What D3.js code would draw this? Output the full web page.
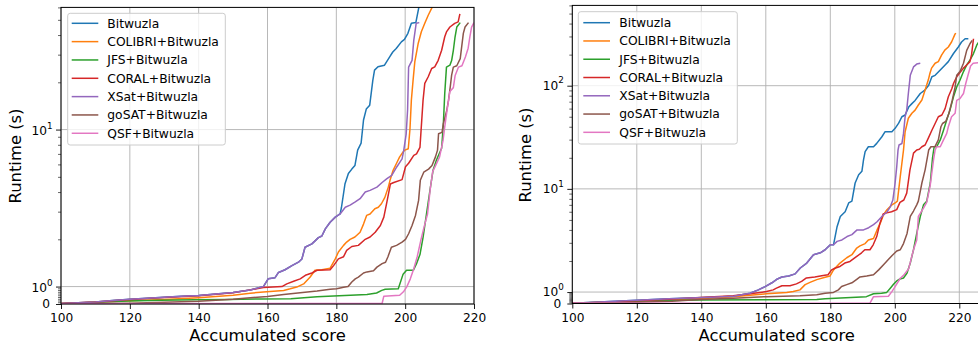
<!DOCTYPE html>
<html><head><meta charset="utf-8">
<script src="https://d3js.org/d3.v7.min.js"></script>
<style>html,body{margin:0;padding:0;background:#fff}svg{display:block}</style>
</head><body>
<svg id="c" width="978" height="349"></svg>
<script>
// ---------------- data ----------------
const seriesNames = ["Bitwuzla","COLIBRI+Bitwuzla","JFS+Bitwuzla","CORAL+Bitwuzla","XSat+Bitwuzla","goSAT+Bitwuzla","QSF+Bitwuzla"];
const seriesColors = ["#1f77b4","#ff7f0e","#2ca02c","#d62728","#9467bd","#8c564b","#e377c2"];
const xTicks = [100,120,140,160,180,200,220];
const leftYTicks = [0,1,10];
const rightYTicks = [0,1,10,100];
const leftMinorTicks = [0.1,0.2,0.3,0.4,0.5,0.6,0.7,0.8,0.9,2,3,4,5,6,7,8,9,20,30,40,50,60];
const rightMinorTicks = [0.1,0.2,0.3,0.4,0.5,0.6,0.7,0.8,0.9,2,3,4,5,6,7,8,9,20,30,40,50,60,70,80,90,200,300,400,500,600];
const xLabel = "Accumulated score";
const yLabel = "Runtime (s)";

// left panel: [score, runtime]
const L_Bitwuzla = [[100,0.03],[105,0.07],[110,0.12],[115,0.2],[120,0.27],[125,0.33],[130,0.39],[135,0.44],[140,0.49],[145,0.57],[150,0.66],[155,0.8],[158.8,1.0],[160.2,1.12],[162.2,1.14],[163.2,1.23],[165.1,1.28],[167.1,1.36],[169,1.43],[170,1.5],[170.9,1.78],[172.9,1.87],[174.8,2.05],[175.8,2.1],[176.8,2.33],[178.2,2.57],[179.7,2.77],[181.1,2.9],[181.5,3.2],[182.5,4.5],[183.5,5.25],[184.5,5.6],[185.4,5.9],[186.2,7.4],[187.2,8.2],[187.9,11.5],[188.7,13.5],[189.7,14.3],[190.6,20.6],[191.1,23.9],[192.1,25.1],[194,25.7],[195.5,29],[196.4,31.2],[197.4,32.8],[198.9,36.2],[199.8,37.5],[200.8,41],[201.8,47.5],[203.1,48],[204.1,62]];
const L_COLIBRI = [[100,0.03],[110,0.1],[120,0.18],[130,0.26],[140,0.36],[150,0.5],[155,0.62],[158.8,0.69],[164.7,0.78],[166.6,0.87],[168.5,0.97],[170.5,1.04],[172.4,1.15],[173.8,1.27],[175.8,1.28],[178.2,1.31],[179.7,1.5],[180.6,1.66],[182.1,1.83],[183,1.92],[184,2.0],[185.4,2.07],[186.9,2.22],[187.9,2.5],[188.8,2.84],[189.8,2.9],[191.2,3.13],[192.2,3.2],[193.1,3.37],[194.1,3.7],[195.1,4.3],[195.6,4.75],[196.5,5.5],[197.5,6.1],[198.4,6.7],[199.4,7.2],[199.9,7.4],[200.9,7.55],[201.4,10.1],[201.8,15.4],[202.3,20.6],[202.8,27],[203.8,35.5],[204.7,42],[205.7,47.5],[206.7,53.5],[207.9,60.5],[208.5,68]];
const L_JFS = [[100,0.02],[110,0.1],[119.4,0.17],[129,0.21],[138.7,0.25],[148.4,0.26],[158,0.29],[166.8,0.3],[174.4,0.41],[179.2,0.46],[184.1,0.5],[188.9,0.55],[191.7,0.63],[193.2,0.78],[194.2,0.85],[198,0.87],[199.4,1.2],[200.4,1.27],[202.4,1.27],[203.3,1.4],[204.3,1.6],[205.2,2.06],[206.2,2.9],[207.2,4.1],[208.1,5.5],[209.1,6.4],[210.1,7.2],[210.6,7.6],[211.1,10.9],[211.5,17],[212,25],[213,25.7],[213.5,27.5],[214,32],[214.5,39],[215,45],[216,48]];
const L_CORAL = [[100,0.03],[110,0.12],[120,0.26],[130,0.38],[140,0.48],[150,0.64],[154.9,0.81],[158.8,0.95],[164.2,1.0],[165.6,1.04],[167.6,1.08],[169.5,1.12],[171,1.18],[172.9,1.22],[174.4,1.27],[178.2,1.28],[179.2,1.36],[180.6,1.5],[182.1,1.55],[183,1.7],[184.5,1.8],[186.4,1.83],[188.4,2.0],[189.8,2.07],[191.3,2.22],[192.8,2.45],[193.8,2.77],[194.7,3.46],[195.7,4.5],[196.7,4.6],[199.1,4.8],[200.1,5.8],[201,6.1],[202.5,6.85],[203.3,7.0],[204.3,7.7],[205.2,15.4],[205.7,19.7],[206.7,21.7],[207.7,24.5],[208.6,25.1],[209.6,27.6],[210.6,32],[211.5,39],[212,41.9],[213,45],[214.4,47.5],[215.4,48.5],[215.9,54.5]];
const L_XSat = [[100,0.03],[105,0.07],[110,0.12],[115,0.2],[120,0.27],[125,0.33],[130,0.39],[135,0.44],[140,0.49],[145,0.57],[150,0.66],[155,0.8],[158.8,1.0],[160.2,1.12],[162.2,1.14],[163.2,1.23],[165.1,1.28],[167.1,1.36],[169,1.43],[170,1.5],[170.9,1.78],[172.9,1.87],[174.8,2.05],[175.8,2.1],[176.8,2.33],[178.2,2.57],[179.7,2.77],[181.1,2.9],[182.6,3.2],[184,3.3],[185.5,3.46],[186.9,3.63],[188.4,4.0],[189.8,4.1],[191.8,4.3],[193.3,4.6],[194.7,4.87],[196.1,5.1],[197.6,5.8],[199.1,6.5],[199.6,7.4],[200.3,9.4],[200.7,13.3],[201,25],[202,27.6],[202.5,37],[203.2,47.5],[204.1,48]];
const L_goSAT = [[100,0.02],[110,0.03],[120,0.05],[130,0.1],[140,0.16],[150,0.27],[155,0.36],[160,0.43],[164.7,0.55],[169.5,0.65],[174.4,0.75],[178.2,0.85],[180.1,0.88],[182.1,0.96],[183.4,1.0],[184.5,1.07],[185.5,1.12],[186.4,1.15],[187.9,1.22],[188.9,1.24],[190.8,1.26],[191.8,1.33],[193.3,1.4],[194.3,1.43],[195,1.55],[196,1.78],[197.5,1.83],[199.1,1.92],[200.1,2.0],[201,2.17],[202,2.45],[203,2.84],[203.9,3.54],[204.4,4.75],[205.4,5.35],[206.8,5.6],[207.8,5.9],[208.8,6.7],[209.4,7.4],[209.7,9.4],[210.7,9.6],[211.1,10.9],[212.1,13.3],[212.6,15.4],[213.1,18.7],[213.5,22.2],[214,25],[215,25.5],[216,28.3],[216.9,41],[217.4,45],[218.4,48]];
const L_QSF = [[100,0.02],[193.3,0.03],[193.8,0.45],[198.4,0.5],[199.5,0.7],[200.5,1.0],[201.5,1.12],[202.5,1.3],[203.5,1.55],[204.5,1.95],[205.5,2.4],[206.5,2.9],[207.3,4.2],[208,5.4],[209,6.0],[210,6.7],[211,8.5],[211.5,10.4],[212,12.5],[213,17.5],[214,18.5],[214.5,22],[215.5,25],[216.5,25.5],[217.5,29],[218.3,33],[218.8,39],[219.3,45],[220,48]];

// right panel: [score, runtime]
const R_Bitwuzla = [[100,0.03],[110,0.15],[120,0.28],[125,0.36],[130,0.42],[141,0.52],[150,0.64],[155.1,0.9],[157.7,1.05],[159.8,1.13],[161.9,1.23],[163.4,1.33],[165,1.4],[167.1,1.43],[169.1,1.5],[170.7,1.71],[172.7,1.91],[174.8,2.3],[176.9,2.4],[178.4,2.57],[180,2.87],[181,2.87],[182.1,4.3],[183.1,5.4],[184.6,6.0],[185.7,7.3],[186.7,7.6],[187.7,11.4],[188.8,13.7],[189.8,14.8],[190.3,19.1],[190.8,23],[191.8,25.6],[193.4,25.6],[194.4,27.6],[196,32],[197,35.8],[199.1,35.8],[200.1,38.6],[201.2,43.3],[202.2,50],[203.2,52],[204.3,62],[205.3,67],[206.3,72],[207.9,84],[209.4,91],[210.5,101],[211.5,122],[212.5,126],[214.1,142],[215.6,159],[216.6,171],[218.2,205],[219.7,237],[220.7,265],[221.8,285],[222.8,285]];
const R_COLIBRI = [[100,0.03],[110,0.1],[120,0.2],[130.9,0.3],[139.6,0.42],[149.9,0.58],[160.2,0.85],[166.5,0.97],[168.5,1.01],[170.6,1.05],[172.2,1.18],[173.7,1.24],[175.8,1.32],[178.4,1.39],[179.9,1.43],[181,1.64],[183,1.91],[185.1,2.15],[186.7,2.3],[188.2,2.67],[189.2,2.8],[190.8,2.95],[191.8,3.2],[193.4,3.3],[194.5,4.0],[195.5,4.65],[196.5,5.6],[197.5,6.25],[199.1,7.0],[200.1,7.3],[200.8,7.6],[201.7,13.2],[202.7,23.8],[203.2,35.8],[204.2,48.3],[205.3,54],[206.3,58],[207.3,65],[208.4,72.6],[209.4,91],[210.4,114],[210.9,132],[211.4,148],[212.5,165],[213.5,171],[214.5,198],[215.5,221],[216.6,237],[217.6,265],[218.7,318],[219,321]];
const R_JFS = [[100,0.02],[110,0.1],[123.6,0.24],[139.6,0.3],[160,0.33],[175.8,0.34],[178.4,0.42],[191.2,0.6],[193.4,0.85],[195.9,0.9],[197.5,0.97],[198.6,1.09],[199.6,1.19],[200.6,1.28],[201.6,1.34],[202.7,1.37],[203.8,1.53],[204.8,1.91],[205.8,2.57],[206.8,3.7],[207.9,5.4],[208.9,7.0],[209.9,7.6],[211,11.4],[211.7,20],[212.2,25.6],[213,25.6],[214.1,29.8],[215.1,37],[216.1,46.5],[217.1,58],[218.2,78],[219.2,97],[220.2,113],[221.3,137],[222.3,159],[223.3,177],[224.4,205],[225.4,247],[226,265]];
const R_CORAL = [[100,0.03],[110,0.12],[120,0.25],[130,0.37],[139.6,0.52],[149.9,0.67],[155.1,0.85],[160.2,1.01],[162.3,1.05],[163.3,1.09],[165,1.15],[167.5,1.15],[169.5,1.2],[171.1,1.27],[172.6,1.37],[175.2,1.4],[177.8,1.45],[179.3,1.47],[180.4,1.64],[181.4,1.7],[183,1.77],[184.5,1.91],[186.1,1.98],[188.1,2.2],[189.7,2.4],[190.7,2.57],[192.3,2.57],[193.3,2.87],[194.4,3.45],[195.4,4.65],[196.4,5.7],[197.5,5.85],[199,6.0],[200.6,6.3],[201.6,7.4],[202.8,7.8],[203.7,9.1],[204.7,15.3],[205.8,22.2],[206.8,23.8],[207.6,24.2],[208.4,25.6],[209.4,26.6],[210.4,31],[211.5,37],[212.5,43],[213.5,50],[214.6,52],[215.6,60],[216.6,78],[217.7,94],[218.2,105],[219.2,122],[220.2,134],[221.3,148],[222.3,159],[223.3,171],[223.8,200],[224.4,285]];
const R_XSat = [[100,0.03],[110,0.15],[120,0.28],[125,0.36],[130,0.42],[141,0.52],[150,0.64],[155.1,0.9],[157.7,1.05],[159.8,1.13],[161.9,1.23],[163.4,1.33],[165,1.4],[167.1,1.43],[169.1,1.5],[170.7,1.71],[172.7,1.91],[174.8,2.3],[176.9,2.4],[178.4,2.57],[180,2.87],[181,2.87],[182.1,3.1],[183.6,3.2],[185.2,3.45],[186.7,3.6],[188.3,4.0],[190.3,4.0],[191.9,4.2],[193.4,4.5],[194.5,4.8],[196,5.4],[197.6,6.0],[198.6,6.7],[199.4,7.8],[200.1,11.4],[200.6,16.4],[201,23.8],[201.3,26.6],[202.2,27.5],[202.7,34.5],[203.2,50],[203.7,58],[204.2,84],[204.8,126],[205.8,152],[206.8,162],[207.9,165]];
const R_goSAT = [[100,0.02],[110,0.05],[120,0.1],[130.9,0.2],[139.6,0.34],[149.9,0.45],[160.2,0.6],[170.6,0.67],[175.8,0.76],[178.4,0.9],[181,0.97],[182.5,1.05],[183.5,1.13],[185.1,1.18],[186.7,1.23],[188.2,1.33],[189.2,1.4],[191.3,1.43],[193.4,1.47],[195,1.64],[196.5,1.84],[198,2.07],[199.1,2.25],[200.6,2.5],[201.7,2.57],[202.7,2.95],[203.8,3.7],[204.8,5.4],[205.8,6.1],[206.8,7.0],[207.3,7.6],[208.4,11.4],[209.4,15.3],[210.5,23.8],[211.2,25.6],[212.5,25.8],[213.5,29.8],[214.3,40],[214.8,43],[215.8,45],[216.8,54],[217.8,72],[218.7,97],[219.2,126],[220.2,137],[221.3,165],[222.3,220],[223.3,255],[224,275]];
const R_QSF = [[100,0.02],[192.3,0.03],[193.4,0.6],[198,0.64],[199.1,1.01],[200.1,1.13],[201.7,1.36],[202.7,1.45],[204.3,1.68],[205.8,2.57],[206.8,3.2],[207.3,5.4],[207.9,5.8],[208.9,6.5],[209.9,7.4],[211,10.9],[212,19],[212.5,23.8],[213,25.6],[214.1,25.6],[215.1,29.8],[216.1,34.5],[216.6,40],[217.6,50],[218.7,54],[219.2,72],[220.2,75],[221.3,84],[222,105],[222.8,130],[223.5,155],[224.3,165],[227,168]];

// ---------------- drawing ----------------
const FONT = "'DejaVu Sans', sans-serif";
const LIN = 0.111;                        // symlog: linear part 0..1 spans 0.111 decade
const symT = v => v <= 1 ? v * LIN : LIN + Math.log10(v);
const svg = d3.select("#c");

const panels = [
  {id:"L", left:61, x220:474, right:474, top:7.4, bottom:304, ymax:60,
   yTicks:leftYTicks, minor:leftMinorTicks, supDy:5.6, zeroDy:4,
   series:[L_Bitwuzla,L_COLIBRI,L_JFS,L_CORAL,L_XSat,L_goSAT,L_QSF],
   ylabX:21, ylabY:156, xlabX:267.5,
   leg:{x:67.7,y:13.3,w:157.6,h:131.7,lx0:71.7,lx1:98.3,tx:107.3,ry0:23.3,dy:18.33}},
  {id:"R", left:572.3, x220:959.3, right:981, top:5.4, bottom:303.5, ymax:600,
   yTicks:rightYTicks, minor:rightMinorTicks, supDy:4.2, zeroDy:4.2,
   series:[R_Bitwuzla,R_COLIBRI,R_JFS,R_CORAL,R_XSat,R_goSAT,R_QSF],
   ylabX:531, ylabY:155, xlabX:776.7,
   leg:{x:578.3,y:11.7,w:159,h:132.3,lx0:583.3,lx1:610,tx:619.3,ry0:22.7,dy:18.27}}
];

panels.forEach(p => {
  const x = d3.scaleLinear().domain([100,220]).range([p.left, p.x220]);
  const yT = d3.scaleLinear().domain([0, symT(p.ymax)]).range([p.bottom, p.top]);
  const y = v => yT(symT(v));
  const g = svg.append("g");
  const clipId = "clip" + p.id;
  g.append("clipPath").attr("id", clipId).append("rect")
    .attr("x", p.left).attr("y", p.top).attr("width", p.right - p.left).attr("height", p.bottom - p.top);

  // grid
  const grid = g.append("g").attr("stroke", "#b0b0b0").attr("stroke-width", 0.9);
  xTicks.forEach(t => grid.append("line").attr("x1", x(t)).attr("x2", x(t)).attr("y1", p.top).attr("y2", p.bottom));
  p.yTicks.forEach(t => grid.append("line").attr("x1", p.left).attr("x2", p.right).attr("y1", y(t)).attr("y2", y(t)));

  // series
  const line = d3.line().x(d => x(d[0])).y(d => y(d[1]));
  const lg = g.append("g").attr("clip-path", `url(#${clipId})`);
  p.series.forEach((d, i) => lg.append("path").attr("d", line(d)).attr("fill", "none")
    .attr("stroke", seriesColors[i]).attr("stroke-width", 1.5).attr("stroke-linejoin", "round"));

  // frame
  g.append("rect").attr("x", p.left).attr("y", p.top).attr("width", p.right - p.left).attr("height", p.bottom - p.top)
    .attr("fill", "none").attr("stroke", "#000").attr("stroke-width", 1);

  // x axis
  const xa = g.append("g").attr("transform", `translate(0,${p.bottom})`)
    .call(d3.axisBottom(x).tickValues(xTicks).tickSize(5).tickSizeOuter(0).tickPadding(4.5));
  xa.select(".domain").remove();
  xa.selectAll("line").attr("stroke", "#000").attr("stroke-width", 0.9);
  xa.selectAll("text").attr("font-size", 12.2).attr("font-family", FONT).attr("fill", "#000");

  // y axis: major + minor ticks
  const ya = g.append("g").attr("transform", `translate(${p.left},0)`)
    .call(d3.axisLeft(yT).tickValues(p.yTicks.map(symT)).tickSize(5).tickSizeOuter(0).tickFormat(""));
  ya.select(".domain").remove();
  ya.selectAll("line").attr("stroke", "#000").attr("stroke-width", 0.9);
  const ym = g.append("g").attr("transform", `translate(${p.left},0)`)
    .call(d3.axisLeft(yT).tickValues(p.minor.map(symT)).tickSize(3).tickSizeOuter(0).tickFormat(""));
  ym.select(".domain").remove();
  ym.selectAll("line").attr("stroke", "#000").attr("stroke-width", 0.6);

  // y tick labels (0, 10^k)
  p.yTicks.forEach(t => {
    if (t === 0) {
      g.append("text").attr("x", p.left - 11).attr("y", y(t) + p.zeroDy).attr("text-anchor", "end")
        .attr("font-family", FONT).attr("font-size", 12.2).text("0");
    } else {
      const tx = g.append("text").attr("x", p.left - 8.5).attr("y", y(t) + p.supDy).attr("text-anchor", "end")
        .attr("font-family", FONT).attr("font-size", 12.2);
      tx.append("tspan").text("10");
      tx.append("tspan").attr("font-size", 8.8).attr("dy", -6.4).text(String(Math.round(Math.log10(t))));
    }
  });

  // axis labels
  g.append("text").attr("x", p.xlabX).attr("y", 341).attr("text-anchor", "middle")
    .attr("font-family", FONT).attr("font-size", 16.4).text(xLabel);
  g.append("text").attr("transform", `translate(${p.ylabX},${p.ylabY}) rotate(-90)`).attr("text-anchor", "middle")
    .attr("font-family", FONT).attr("font-size", 16.4).text(yLabel);

  // legend
  const L = p.leg;
  const lgd = g.append("g");
  lgd.append("rect").attr("x", L.x).attr("y", L.y).attr("width", L.w).attr("height", L.h).attr("rx", 2.5)
    .attr("fill", "#fff").attr("fill-opacity", 0.8).attr("stroke", "#cccccc").attr("stroke-width", 1);
  seriesNames.forEach((n, i) => {
    const ry = L.ry0 + i * L.dy;
    lgd.append("line").attr("x1", L.lx0).attr("x2", L.lx1).attr("y1", ry).attr("y2", ry)
      .attr("stroke", seriesColors[i]).attr("stroke-width", 1.5);
    lgd.append("text").attr("x", L.tx).attr("y", ry + 4.3).attr("font-family", FONT)
      .attr("font-size", 12.3).text(n);
  });
});
</script>
</body></html>
